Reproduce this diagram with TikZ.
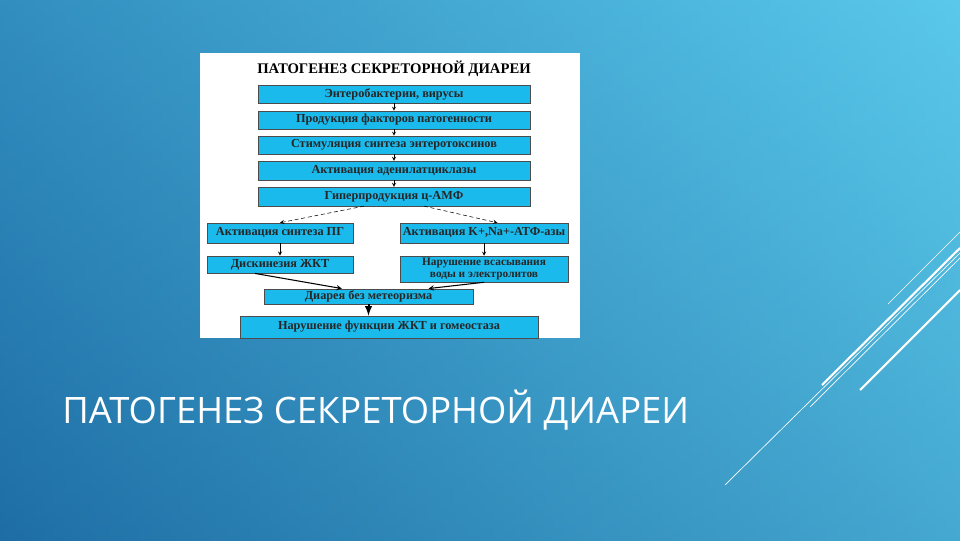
\documentclass[tikz,border=0pt]{standalone}
\usepackage{fontspec}
\setmainfont{Liberation Serif}
\newfontfamily\bigsans{Open Sans}
\begin{document}
\begin{tikzpicture}[x=0.75pt,y=-0.75pt,
  bx/.style={draw=black!70,line width=0.4pt,fill={rgb,255:red,26;green,186;blue,236},inner sep=0pt,font=\bfseries\fontsize{9.2}{9.5}\selectfont,text=black!85,align=center},
  ar/.style={-stealth,line width=0.4pt},
  dl/.style={white,line width=0.5pt},
  tl/.style={white,line width=1.6pt}]
\shade[top color={rgb,255:red,80;green,190;blue,230},bottom color={rgb,255:red,30;green,110;blue,165},shading angle=0] (0,0) rectangle (960,540);
\shade[left color={rgb,255:red,30;green,110;blue,165},right color={rgb,255:red,96;green,208;blue,238},opacity=0.6] (0,0) rectangle (960,540);
\useasboundingbox (0,0) rectangle (960,540);
\fill[white] (200,53) rectangle (580,338);
\node (title) at (394,69) {\bfseries\fontsize{11}{12}\selectfont ПАТОГЕНЕЗ СЕКРЕТОРНОЙ ДИАРЕИ};
\node[bx,minimum width=204pt,minimum height=13.5pt] (b1) at (394,94) {Энтеробактерии, вирусы};
\node[bx,minimum width=204pt,minimum height=13.5pt] (b2) at (394,120) {Продукция факторов патогенности};
\node[bx,minimum width=204pt,minimum height=13.5pt] (b3) at (394,145) {Стимуляция синтеза энтеротоксинов};
\node[bx,minimum width=204pt,minimum height=14pt] (b4) at (394,170.5) {Активация аденилатциклазы};
\node[bx,minimum width=204pt,minimum height=14pt] (b5) at (394,196.5) {Гиперпродукция ц-АМФ};
\node[bx,minimum width=109.5pt,minimum height=15pt] (l1) at (280,233) {Активация синтеза ПГ};
\node[bx,minimum width=126pt,minimum height=15pt] (r1) at (484,233) {Активация K+,Na+-АТФ-азы};
\node[bx,minimum width=109.5pt,minimum height=13pt] (l2) at (280,264.5) {Дискинезия ЖКТ};
\node[bx,minimum width=126pt,minimum height=19.5pt,font=\bfseries\fontsize{8.5}{9}\selectfont] (r2) at (484,269) {Нарушение всасывания\\воды и электролитов};
\node[bx,minimum width=157pt,minimum height=11.5pt] (d) at (368.5,296.5) {Диарея без метеоризма};
\node[bx,minimum width=223.5pt,minimum height=16.5pt] (e) at (389,327) {Нарушение функции ЖКТ и гомеостаза};
\foreach \a/\b in {b1/b2,b2/b3,b3/b4,b4/b5} \draw[ar] (\a) -- (\b);
\draw[ar,densely dashed] (b5.south) ++(-30,0) -- (l1.north);
\draw[ar,densely dashed] (b5.south) ++(30,0) -- ([xshift=10]r1.north);
\draw[ar] (l1) -- (l2);
\draw[ar] (r1) -- (r2);
\draw[ar,line width=0.8pt] (l2.south) ++(-25,0) -- ([xshift=-20]d.north);
\draw[ar,line width=0.8pt] (r2.south) -- ([xshift=45]d.north);
\draw[-latex,line width=1.5pt] (d.south) -- (d.south |- e.north);
\node[anchor=west,text=white,inner sep=0pt] (big) at (62,410) {\bigsans\fontsize{27.3}{30}\selectfont ПАТОГЕНЕЗ СЕКРЕТОРНОЙ ДИАРЕИ};
\draw[dl] (725,485) -- (960,253);
\draw[tl] (822,385) -- (960,248);
\draw[dl] (810,407) -- (960,258);
\draw[tl] (860,390) -- (960,290);
\draw[dl] (888,304) -- (960,232);
\end{tikzpicture}
\end{document}
